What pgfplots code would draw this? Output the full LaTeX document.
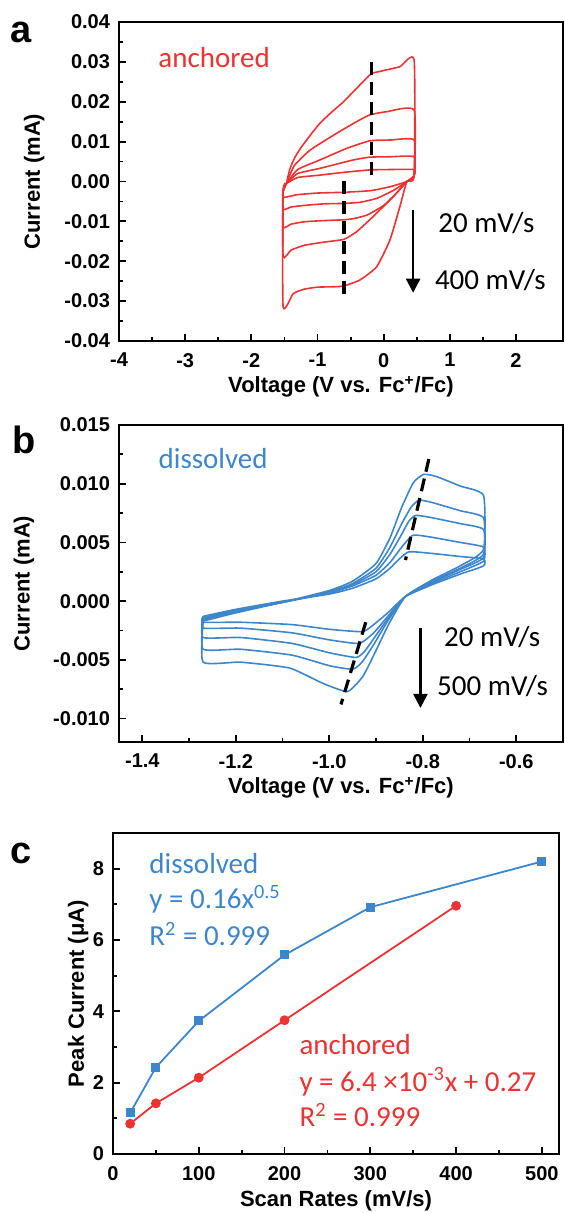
\documentclass[border=0pt]{standalone}
\usepackage{fontspec}
\setmainfont{Liberation Sans}
\newfontfamily\calfont{Carlito}
\usepackage{pgfplots}
\pgfplotsset{compat=1.18}
\usetikzlibrary{arrows.meta}

\definecolor{cvred}{RGB}{236,50,50}
\definecolor{cvblue}{RGB}{62,134,204}

\pgfplotsset{
  panel/.style={
    scale only axis,
    anchor=north west,
    axis line style={line width=1.1pt},
    tick align=inside,
    tick pos=left,
    major tick length=3.5pt,
    minor tick length=2pt,
    every tick/.style={line width=0.9pt,black},
    minor tick num=1,
    scaled ticks=false,
    /pgf/number format/assume math mode=true,
    tick label style={font=\bfseries\fontsize{10}{12}\selectfont},
    xticklabel style={yshift=-2.5pt},
    yticklabel style={xshift=-1pt},
    label style={font=\bfseries\fontsize{11}{13}\selectfont},
  },
  cva/.style={cvred,line width=0.8pt,smooth,tension=0.3,mark=none},
  cvb/.style={cvblue,line width=0.8pt,smooth,tension=0.3,mark=none},
  guide/.style={black,line width=1.6pt,dash pattern=on 6.5pt off 3.5pt,mark=none},
}
\tikzset{note/.style={anchor=base west,inner sep=0pt,font=\calfont\fontsize{14.5}{17}\selectfont}}

\begin{document}
\begin{tikzpicture}
\path[use as bounding box] (0,0) rectangle (282pt,-606.5pt);

% panel letters
\node[anchor=base west,inner sep=0pt,font=\bfseries\fontsize{19}{22}\selectfont] at (5pt,-21.5pt) {a};
\node[anchor=base west,inner sep=0pt,font=\bfseries\fontsize{19}{22}\selectfont] at (6pt,-226.5pt) {b};
\node[anchor=base west,inner sep=0pt,font=\bfseries\fontsize{19}{22}\selectfont] at (5pt,-431.5pt) {c};

% ---------------- (a) anchored ----------------
\begin{axis}[panel,
  at={(59.5pt,-11pt)},
  width=222pt, height=159.5pt,
  xmin=-4, xmax=2.71, ymin=-0.04, ymax=0.04,
  xtick={-4,-3,-2,-1,0,1,2},
  ytick={-0.04,-0.03,-0.02,-0.01,0,0.01,0.02,0.03,0.04},
  yticklabel style={/pgf/number format/.cd,fixed,fixed zerofill,precision=2},
  xlabel={Voltage (V vs. Fc\textsuperscript{+}/Fc)},
  ylabel={Current (mA)},
  xlabel style={at={(axis description cs:0.5,-0.163)},anchor=base},
  ylabel style={at={(axis description cs:-0.191,0.5)},anchor=center},
]
\addplot[cva] coordinates {(-1.47,-0.0005) (-1.3,0.0010) (-0.964,0.0016) (-0.6,0.0023) (-0.21,0.0029) (0.1,0.0030) (0.46,0.0030) (0.46,0.0015) (0.35,0) (0.1,-0.0013) (-0.2,-0.0023) (-0.6,-0.0027) (-1.0,-0.0029) (-1.3,-0.0033) (-1.52,-0.0040) (-1.52,-0.0025) (-1.47,-0.0005)};
\addplot[cva] coordinates {(-1.47,-0.0005) (-1.3,0.0020) (-0.964,0.0033) (-0.46,0.0054) (-0.21,0.0061) (0.1,0.0062) (0.46,0.0062) (0.46,0.0015) (0.35,0) (0.15,-0.0022) (-0.1,-0.0042) (-0.35,-0.0052) (-0.6,-0.0055) (-0.9,-0.0056) (-1.2,-0.0060) (-1.4,-0.0064) (-1.52,-0.0070) (-1.52,-0.0025) (-1.47,-0.0005)};
\addplot[cva] coordinates {(-1.47,-0.0005) (-1.3,0.0030) (-0.964,0.0054) (-0.56,0.0083) (-0.21,0.0102) (0.1,0.0104) (0.46,0.0104) (0.46,0.0015) (0.35,0) (0.2,-0.0028) (0.0,-0.0060) (-0.25,-0.0084) (-0.45,-0.0093) (-0.6,-0.0096) (-0.9,-0.0098) (-1.2,-0.0101) (-1.4,-0.0107) (-1.52,-0.0114) (-1.52,-0.0025) (-1.47,-0.0005)};
\addplot[cva] coordinates {(-1.47,-0.0005) (-1.35,0.0040) (-1.11,0.0079) (-0.71,0.0121) (-0.41,0.0150) (-0.21,0.0167) (0.042,0.0175) (0.46,0.0179) (0.46,0.0015) (0.35,0) (0.145,-0.0038) (-0.16,-0.0088) (-0.41,-0.0126) (-0.6,-0.0145) (-0.9,-0.0152) (-1.2,-0.0160) (-1.4,-0.0172) (-1.52,-0.0188) (-1.52,-0.0025) (-1.47,-0.0005)};
\addplot[cva] coordinates {(-1.47,-0.0005) (-1.42,0.0030) (-1.35,0.0058) (-1.25,0.0085) (-1.10,0.0118) (-0.964,0.0146) (-0.80,0.0172) (-0.62,0.0198) (-0.46,0.0225) (-0.26,0.0259) (-0.183,0.0271) (-0.007,0.0278) (0.245,0.0288) (0.46,0.0305) (0.46,0.0015) (0.35,0) (0.245,-0.0063) (0.094,-0.0147) (-0.107,-0.0214) (-0.36,-0.0247) (-0.60,-0.0262) (-0.76,-0.0264) (-1.0,-0.0265) (-1.2,-0.0270) (-1.366,-0.0281) (-1.52,-0.0314) (-1.52,-0.0025) (-1.47,-0.0005)};
% peak guides and scan-rate arrow
\addplot[guide] coordinates {(-0.18,0.0300) (-0.18,0.0016)};
\addplot[guide] coordinates {(-0.60,0.0000) (-0.60,-0.0289)};
\addplot[black,line width=1.2pt,mark=none,-{Triangle[length=7pt,width=7pt]}] coordinates {(0.445,-0.0071) (0.445,-0.0279)};
\node[note,text=cvred] at (axis cs:-3.41,0.0285) {anchored};
\node[note] at (axis cs:0.82,-0.0129) {20 mV/s};
\node[note] at (axis cs:0.77,-0.0272) {400 mV/s};
\end{axis}

% ---------------- (b) dissolved ----------------
\begin{axis}[panel,
  at={(59.5pt,-212.5pt)},
  width=222pt, height=158.5pt,
  xmin=-1.45, xmax=-0.5, ymin=-0.012, ymax=0.015,
  xtick={-1.4,-1.2,-1.0,-0.8,-0.6},
  ytick={-0.010,-0.005,0,0.005,0.010,0.015},
  xticklabel style={/pgf/number format/.cd,fixed,fixed zerofill,precision=1},
  yticklabel style={/pgf/number format/.cd,fixed,fixed zerofill,precision=3},
  xlabel={Voltage (V vs. Fc\textsuperscript{+}/Fc)},
  ylabel={Current (mA)},
  xlabel style={at={(axis description cs:0.5,-0.164)},anchor=base},
  ylabel style={at={(axis description cs:-0.214,0.5)},anchor=center},
]
\addplot[cvb] coordinates {(-1.27,-0.0013) (-1.2,-0.0007) (-1.1,0.0) (-1.0,0.0006) (-0.95,0.0011) (-0.9,0.0019) (-0.87,0.0028) (-0.85,0.0036) (-0.83,0.0042) (-0.79,0.0041) (-0.72,0.0038) (-0.67,0.0036) (-0.67,0.0030) (-0.72,0.0023) (-0.78,0.0014) (-0.837,0.0004) (-0.875,-0.0010) (-0.905,-0.0020) (-0.929,-0.0026) (-1.0,-0.0024) (-1.08,-0.0020) (-1.19,-0.0018) (-1.27,-0.0018) (-1.27,-0.0013)};
\addplot[cvb] coordinates {(-1.27,-0.0014) (-1.2,-0.0008) (-1.1,-0.0001) (-1.0,0.0007) (-0.95,0.0013) (-0.9,0.0022) (-0.87,0.0033) (-0.845,0.0046) (-0.822,0.0056) (-0.79,0.0055) (-0.72,0.0050) (-0.67,0.0046) (-0.67,0.0034) (-0.72,0.0025) (-0.78,0.0015) (-0.837,0.0004) (-0.875,-0.0013) (-0.905,-0.0027) (-0.936,-0.0036) (-1.0,-0.0033) (-1.08,-0.0027) (-1.19,-0.0023) (-1.27,-0.0023) (-1.27,-0.0014)};
\addplot[cvb] coordinates {(-1.27,-0.0015) (-1.2,-0.0009) (-1.1,-0.0001) (-1.0,0.0007) (-0.95,0.0014) (-0.9,0.0025) (-0.87,0.0040) (-0.845,0.0057) (-0.83,0.0068) (-0.815,0.0073) (-0.78,0.0071) (-0.72,0.0066) (-0.67,0.0061) (-0.67,0.0037) (-0.72,0.0027) (-0.78,0.0016) (-0.837,0.0004) (-0.875,-0.0015) (-0.905,-0.0032) (-0.925,-0.0043) (-0.943,-0.0048) (-1.0,-0.0044) (-1.08,-0.0036) (-1.19,-0.0031) (-1.27,-0.0031) (-1.27,-0.0015)};
\addplot[cvb] coordinates {(-1.27,-0.0016) (-1.2,-0.0009) (-1.1,-0.0001) (-1.0,0.0008) (-0.95,0.0015) (-0.9,0.0028) (-0.87,0.0046) (-0.845,0.0066) (-0.825,0.0080) (-0.808,0.0086) (-0.78,0.0084) (-0.72,0.0077) (-0.67,0.0071) (-0.67,0.0040) (-0.72,0.0028) (-0.78,0.0017) (-0.837,0.0004) (-0.875,-0.0017) (-0.905,-0.0037) (-0.93,-0.0052) (-0.95,-0.0058) (-1.0,-0.0055) (-1.08,-0.0046) (-1.19,-0.0041) (-1.27,-0.0041) (-1.27,-0.0016)};
\addplot[cvb] coordinates {(-1.27,-0.0017) (-1.2,-0.0010) (-1.1,-0.0001) (-1.0,0.0009) (-0.95,0.0017) (-0.9,0.0032) (-0.87,0.0054) (-0.845,0.0080) (-0.82,0.0101) (-0.798,0.0108) (-0.77,0.0106) (-0.72,0.0098) (-0.67,0.0090) (-0.67,0.0044) (-0.72,0.0030) (-0.78,0.0018) (-0.837,0.0004) (-0.872,-0.0019) (-0.9,-0.0042) (-0.928,-0.0064) (-0.961,-0.0077) (-1.014,-0.0070) (-1.085,-0.0057) (-1.19,-0.0052) (-1.27,-0.0052) (-1.27,-0.0017)};
\addplot[guide] coordinates {(-0.787,0.0121) (-0.837,0.0035)};
\addplot[guide] coordinates {(-0.922,-0.0018) (-0.975,-0.0088)};
\addplot[black,line width=1.2pt,mark=none,-{Triangle[length=7pt,width=7pt]}] coordinates {(-0.805,-0.0023) (-0.805,-0.0091)};
\node[note,text=cvblue] at (axis cs:-1.366,0.0113) {dissolved};
\node[note] at (axis cs:-0.755,-0.0039) {20 mV/s};
\node[note] at (axis cs:-0.770,-0.0080) {500 mV/s};
\end{axis}

% ---------------- (c) peak current vs scan rate ----------------
\begin{axis}[panel,
  at={(56.5pt,-416.5pt)},
  width=223pt, height=160.5pt,
  xmin=0, xmax=520, ymin=0, ymax=9,
  xtick={0,100,200,300,400,500},
  ytick={0,2,4,6,8},
  xlabel={Scan Rates (mV/s)},
  ylabel={Peak Current (μA)},
  xlabel style={at={(axis description cs:0.5,-0.162)},anchor=base},
  ylabel style={at={(axis description cs:-0.078,0.5)},anchor=center},
]
\addplot[cvblue,line width=0.9pt,mark=square*,mark size=1.8pt] coordinates {(20,1.15) (50,2.43) (100,3.73) (200,5.58) (300,6.92) (500,8.2)};
\addplot[cvred,line width=0.9pt,mark=*,mark size=2pt] coordinates {(20,0.85) (50,1.42) (100,2.14) (200,3.75) (400,6.96)};
\node[note,text=cvblue] at (axis cs:42,7.86) {dissolved};
\node[note,text=cvblue] at (axis cs:42,6.87) {y = 0.16x\textsuperscript{0.5}};
\node[note,text=cvblue] at (axis cs:42,5.84) {R\textsuperscript{2} = 0.999};
\node[note,text=cvred] at (axis cs:217,2.79) {anchored};
\node[note,text=cvred] at (axis cs:217,1.76) {y = 6.4 ×10\textsuperscript{-3}x + 0.27};
\node[note,text=cvred] at (axis cs:217,0.77) {R\textsuperscript{2} = 0.999};
\end{axis}
\end{tikzpicture}
\end{document}
